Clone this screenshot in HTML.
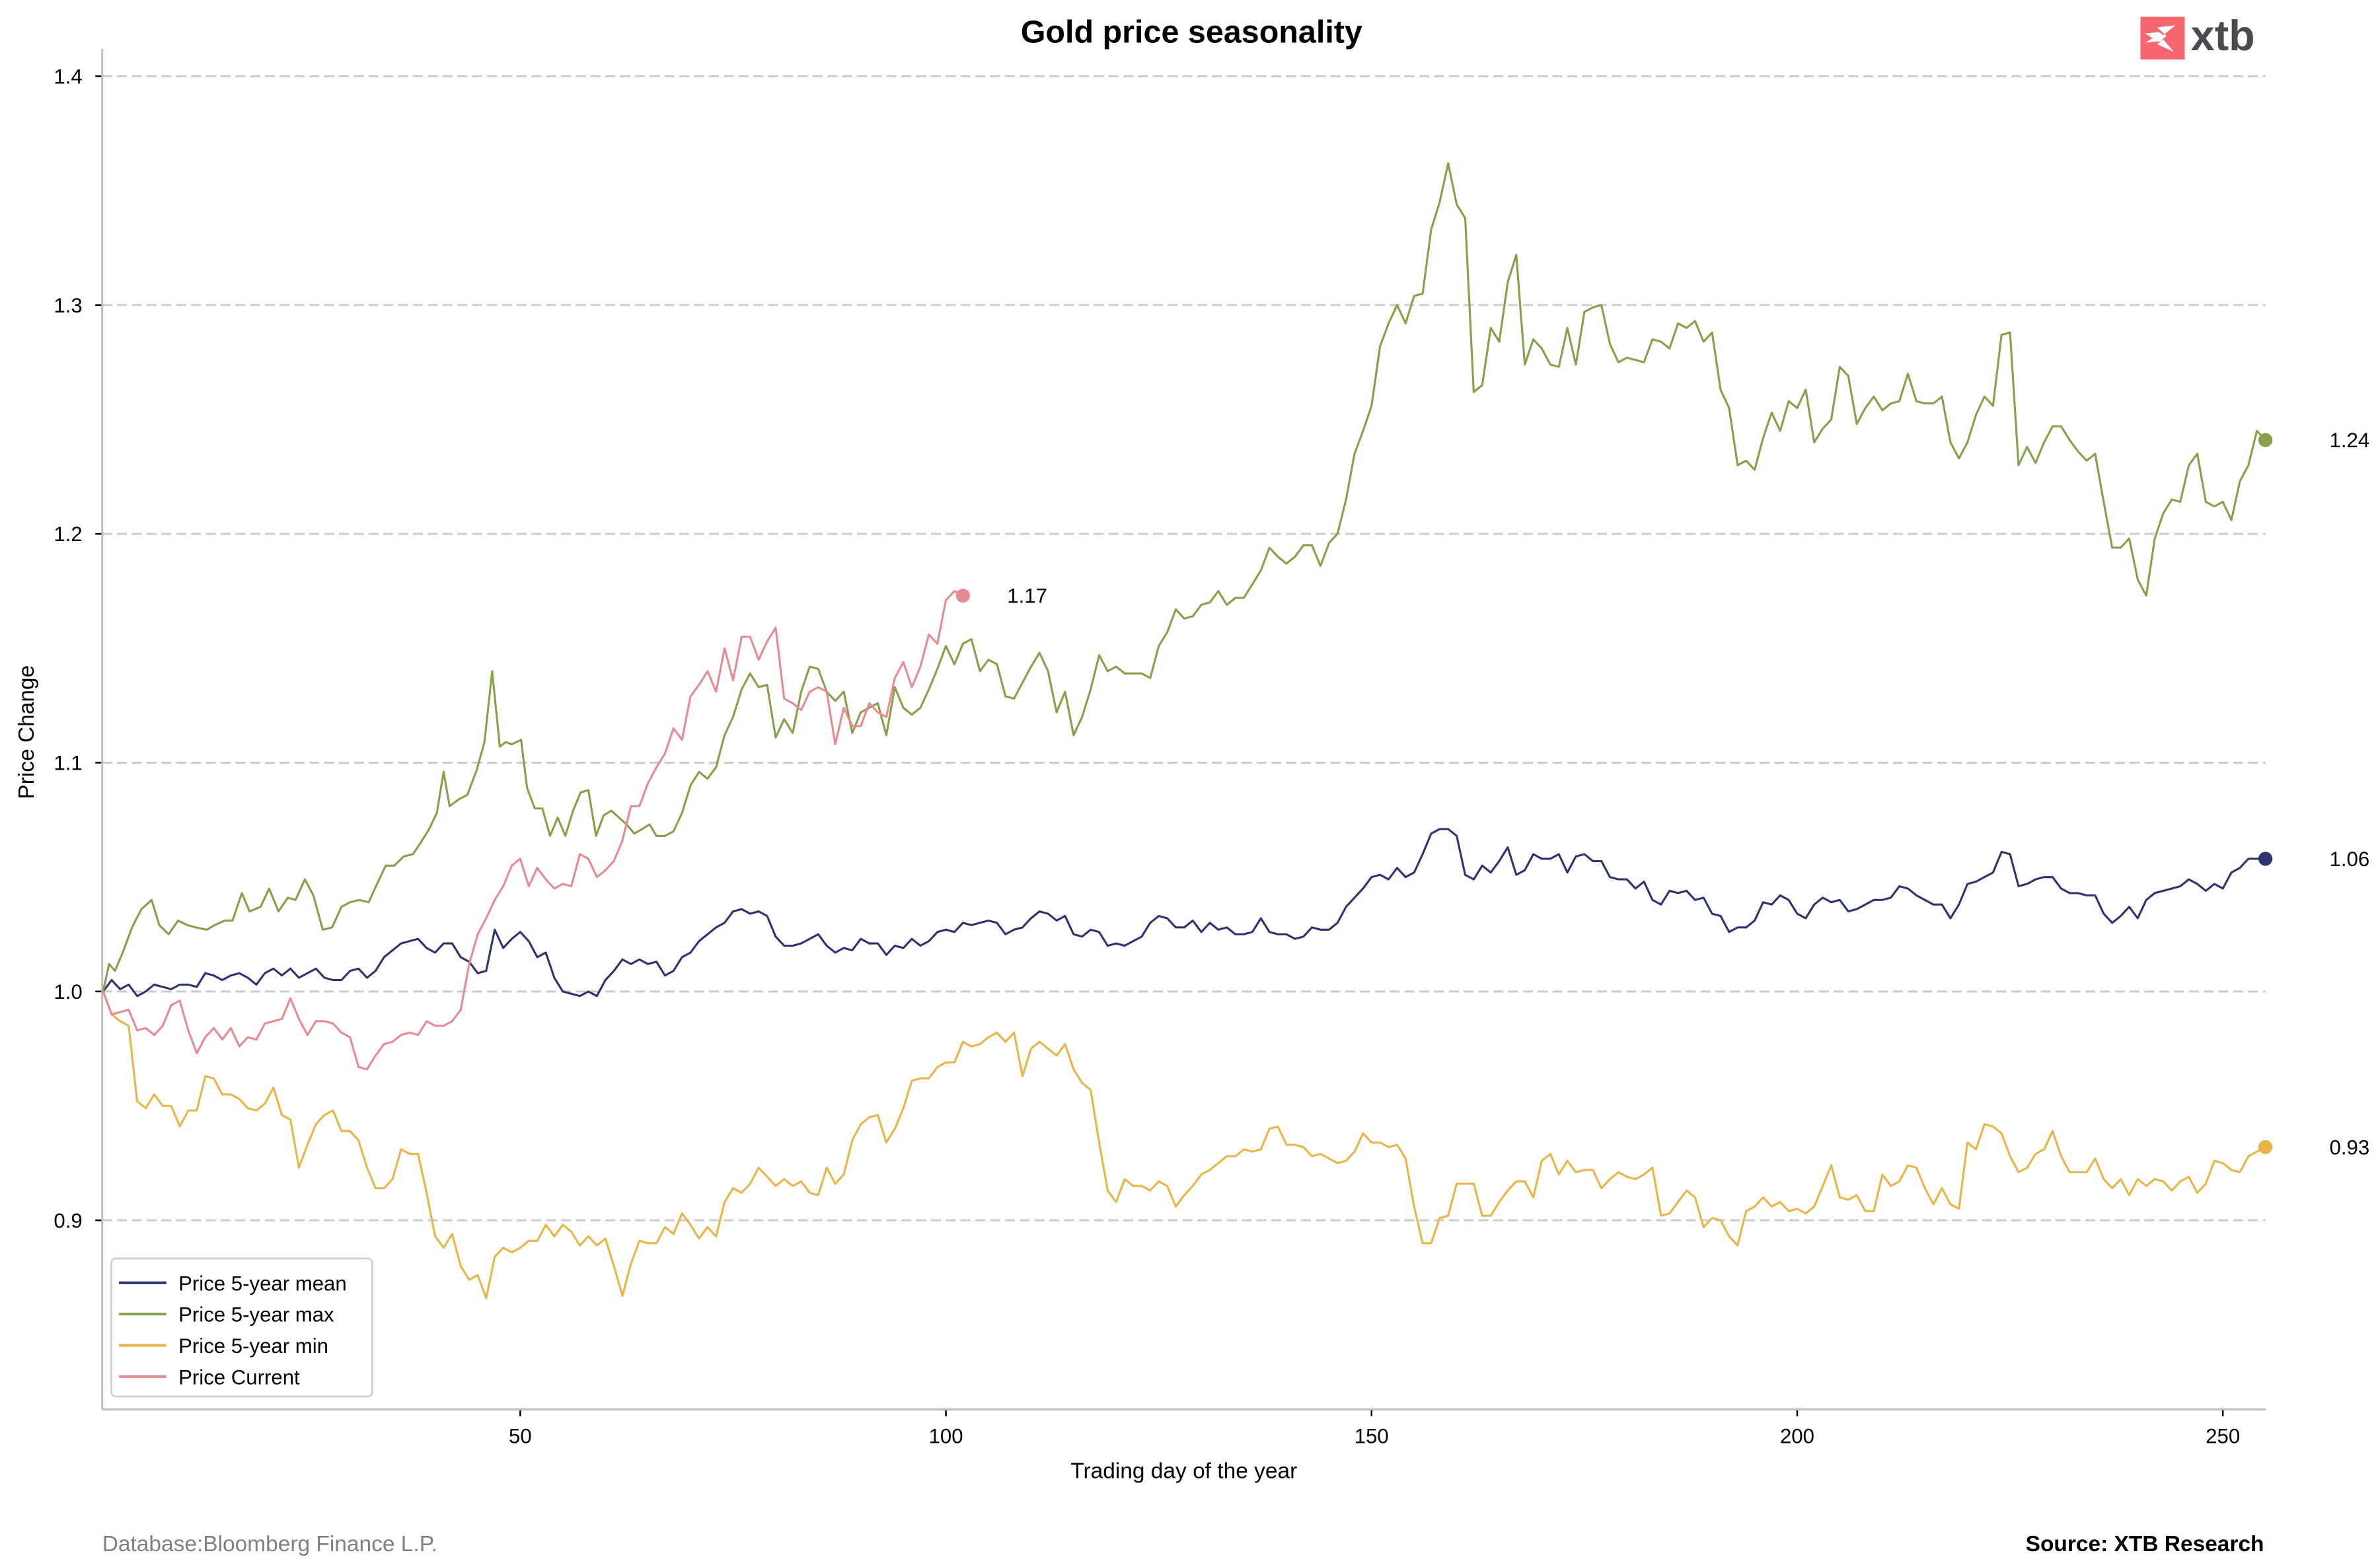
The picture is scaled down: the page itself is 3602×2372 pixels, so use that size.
<!DOCTYPE html>
<html><head><meta charset="utf-8"><style>
html,body{margin:0;padding:0;background:#fff;}
svg{display:block;font-family:"Liberation Sans",Arial,sans-serif;}
</style></head><body>
<svg id="chart" width="3602" height="2372" viewBox="0 0 1560 1027.3" xmlns="http://www.w3.org/2000/svg">
<rect x="0" y="0" width="1560" height="1027.3" fill="#fff"/>
<text x="781" y="28" text-anchor="middle" font-size="21" font-weight="bold" fill="#000">Gold price seasonality</text>
<g>
<rect x="1403" y="11" width="29" height="28" fill="#f5666f"/>
<path d="M1406 22 L1415 21 L1418 23 L1426 16.5 L1414 18 L1420 23.5 L1414 29 L1425 34 L1418 26 L1416 27 L1406 28 L1411 25 Z" fill="#fff"/>
<text x="1436" y="33" font-size="28" font-weight="bold" fill="#4a4a4f">xtb</text>
</g>
<g id="grid"></g>
<g id="axes"></g>
<g id="series"></g>
<g id="endmarks"></g>
<text x="776" y="969" text-anchor="middle" font-size="14.5" fill="#000">Trading day of the year</text>
<text transform="translate(22,480) rotate(-90)" text-anchor="middle" font-size="14.5" fill="#000">Price Change</text>
<text x="67" y="1017" font-size="14.5" fill="#808080">Database:Bloomberg Finance L.P.</text>
<text x="1484" y="1017" text-anchor="end" font-size="14.5" font-weight="bold" fill="#000">Source: XTB Research</text>
<g>
<rect x="73" y="825" width="171" height="90.5" rx="3" fill="#fff" stroke="#d0d0d0" stroke-width="1.2"/>
<g><line x1="78" y1="841" x2="109" y2="841" stroke="#2e3470" stroke-width="1.8"/><text x="117" y="846" font-size="13.5">Price 5-year mean</text></g>
<g><line x1="78" y1="861.5" x2="109" y2="861.5" stroke="#86a04b" stroke-width="1.8"/><text x="117" y="866.5" font-size="13.5">Price 5-year max</text></g>
<g><line x1="78" y1="882" x2="109" y2="882" stroke="#e8b548" stroke-width="1.8"/><text x="117" y="887" font-size="13.5">Price 5-year min</text></g>
<g><line x1="78" y1="902.5" x2="109" y2="902.5" stroke="#e88a93" stroke-width="1.8"/><text x="117" y="907.5" font-size="13.5">Price Current</text></g>
</g>
</svg>
<script>
const yTicks = [0.9, 1.0, 1.1, 1.2, 1.3, 1.4];
const yTickLabels = ["0.9", "1.0", "1.1", "1.2", "1.3", "1.4"];
const xTicks = [50, 100, 150, 200, 250];
const xTickLabels = ["50", "100", "150", "200", "250"];

const meanValues = [1.000,1.005,1.001,1.003,0.998,1.000,1.003,1.002,1.001,1.003,1.003,1.002,1.008,1.007,1.005,1.007,1.008,1.006,1.003,1.008,1.010,1.007,1.010,1.006,1.008,1.010,1.006,1.005,1.005,1.009,1.010,1.006,1.009,1.015,1.018,1.021,1.022,1.023,1.019,1.017,1.021,1.021,1.015,1.013,1.008,1.009,1.027,1.019,1.023,1.026,1.022,1.015,1.017,1.006,1.000,0.999,0.998,1.000,0.998,1.005,1.009,1.014,1.012,1.014,1.012,1.013,1.007,1.009,1.015,1.017,1.022,1.025,1.028,1.030,1.035,1.036,1.034,1.035,1.033,1.024,1.020,1.020,1.021,1.023,1.025,1.020,1.017,1.019,1.018,1.023,1.021,1.021,1.016,1.020,1.019,1.023,1.020,1.022,1.026,1.027,1.026,1.030,1.029,1.030,1.031,1.030,1.025,1.027,1.028,1.032,1.035,1.034,1.031,1.033,1.025,1.024,1.027,1.026,1.020,1.021,1.020,1.022,1.024,1.030,1.033,1.032,1.028,1.028,1.031,1.026,1.030,1.027,1.028,1.025,1.025,1.026,1.032,1.026,1.025,1.025,1.023,1.024,1.028,1.027,1.027,1.030,1.037,1.041,1.045,1.050,1.051,1.049,1.054,1.050,1.052,1.060,1.069,1.071,1.071,1.068,1.051,1.049,1.055,1.052,1.057,1.063,1.051,1.053,1.060,1.058,1.058,1.060,1.052,1.059,1.060,1.057,1.057,1.050,1.049,1.049,1.045,1.048,1.040,1.038,1.044,1.043,1.044,1.040,1.041,1.034,1.033,1.026,1.028,1.028,1.031,1.039,1.038,1.042,1.040,1.034,1.032,1.038,1.041,1.039,1.040,1.035,1.036,1.038,1.040,1.040,1.041,1.046,1.045,1.042,1.040,1.038,1.038,1.032,1.038,1.047,1.048,1.050,1.052,1.061,1.060,1.046,1.047,1.049,1.050,1.050,1.045,1.043,1.043,1.042,1.042,1.034,1.030,1.033,1.037,1.032,1.040,1.043,1.044,1.045,1.046,1.049,1.047,1.044,1.047,1.045,1.052,1.054,1.058,1.058,1.058];

const minValues = [1.000,0.990,0.987,0.985,0.952,0.949,0.955,0.950,0.950,0.941,0.948,0.948,0.963,0.962,0.955,0.955,0.953,0.949,0.948,0.951,0.958,0.946,0.944,0.923,0.933,0.942,0.946,0.948,0.939,0.939,0.935,0.923,0.914,0.914,0.918,0.931,0.929,0.929,0.912,0.893,0.888,0.894,0.880,0.874,0.876,0.866,0.884,0.888,0.886,0.888,0.891,0.891,0.898,0.893,0.898,0.895,0.889,0.893,0.889,0.892,0.880,0.867,0.881,0.891,0.890,0.890,0.897,0.894,0.903,0.898,0.892,0.897,0.893,0.908,0.914,0.912,0.916,0.923,0.919,0.915,0.918,0.915,0.917,0.912,0.911,0.923,0.916,0.920,0.935,0.942,0.945,0.946,0.934,0.940,0.949,0.961,0.962,0.962,0.967,0.969,0.969,0.978,0.976,0.977,0.980,0.982,0.978,0.982,0.963,0.975,0.978,0.975,0.972,0.977,0.966,0.960,0.957,0.934,0.913,0.908,0.918,0.915,0.915,0.913,0.917,0.915,0.906,0.911,0.915,0.920,0.922,0.925,0.928,0.928,0.931,0.930,0.931,0.940,0.941,0.933,0.933,0.932,0.928,0.929,0.927,0.925,0.926,0.930,0.938,0.934,0.934,0.932,0.933,0.927,0.906,0.890,0.890,0.901,0.902,0.916,0.916,0.916,0.902,0.902,0.908,0.913,0.917,0.917,0.910,0.926,0.929,0.920,0.926,0.921,0.922,0.922,0.914,0.918,0.921,0.919,0.918,0.920,0.923,0.902,0.903,0.908,0.913,0.910,0.897,0.901,0.900,0.893,0.889,0.904,0.906,0.910,0.906,0.908,0.904,0.905,0.903,0.906,0.915,0.924,0.910,0.909,0.911,0.904,0.904,0.920,0.915,0.917,0.924,0.923,0.914,0.907,0.914,0.907,0.905,0.934,0.931,0.942,0.941,0.938,0.928,0.921,0.923,0.929,0.931,0.939,0.928,0.921,0.921,0.921,0.927,0.918,0.914,0.918,0.911,0.918,0.915,0.918,0.917,0.913,0.917,0.919,0.912,0.916,0.926,0.925,0.922,0.921,0.928,0.930,0.932];

const maxDays = [1,1.7,2.4,3.3,4.4,5.5,6.7,7.6,8.7,9.8,10.9,11.9,13.2,14.1,15.3,16.2,17.3,18.2,19.5,20.5,21.6,22.7,23.6,24.7,25.7,26.8,27.9,29,30,31.1,32.2,33.3,34.2,35.2,36.3,37.4,38.3,39.3,40.2,41,41.7,42.8,43.8,44.9,45.8,46.7,47.6,48.3,49,50.1,50.8,51.7,52.6,53.5,54.4,55.3,56.2,57.1,58,58.9,59.8,60.7,61.6,62.5,63.4,64.3,65.2,66,67,68,69,70,71,72,73,74,75,76,77,78,79,80,81,82,83,84,85,86,87,88,89,90,91,92,93,94,95,96,97,98,99,100,101,102,103,104,105,106,107,108,109,110,111,112,113,114,115,116,117,118,119,120,121,122,123,124,125,126,127,128,129,130,131,132,133,134,135,136,137,138,139,140,141,142,143,144,145,146,147,148,149,150,151,152,153,154,155,156,157,158,159,160,161,162,163,164,165,166,167,168,169,170,171,172,173,174,175,176,177,178,179,180,181,182,183,184,185,186,187,188,189,190,191,192,193,194,195,196,197,198,199,200,201,202,203,204,205,206,207,208,209,210,211,212,213,214,215,216,217,218,219,220,221,222,223,224,225,226,227,228,229,230,231,232,233,234,235,236,237,238,239,240,241,242,243,244,245,246,247,248,249,250,251,252,253,254,255];
const maxValues = [1.000,1.012,1.009,1.017,1.028,1.036,1.040,1.029,1.025,1.031,1.029,1.028,1.027,1.029,1.031,1.031,1.043,1.035,1.037,1.045,1.035,1.041,1.040,1.049,1.042,1.027,1.028,1.037,1.039,1.040,1.039,1.048,1.055,1.055,1.059,1.060,1.065,1.071,1.078,1.096,1.081,1.084,1.086,1.097,1.109,1.140,1.107,1.109,1.108,1.110,1.089,1.080,1.080,1.068,1.076,1.068,1.079,1.087,1.088,1.068,1.077,1.079,1.076,1.073,1.069,1.071,1.073,1.068,
1.068,1.070,1.078,1.090,1.096,1.093,1.098,1.112,1.120,1.132,1.139,1.133,1.134,1.111,1.119,1.113,1.131,1.142,1.141,1.131,1.127,1.131,1.113,1.122,1.124,1.126,1.112,1.133,1.124,1.121,1.124,1.132,1.141,1.151,1.143,1.152,1.154,1.140,1.145,1.143,1.129,1.128,1.135,1.142,1.148,1.140,1.122,1.131,1.112,1.120,1.132,1.147,1.140,1.142,1.139,1.139,1.139,1.137,1.151,1.157,1.167,1.163,1.164,1.169,1.170,1.175,1.169,1.172,1.172,1.178,1.184,1.194,1.190,1.187,1.190,1.195,1.195,
1.186,1.196,1.200,1.215,1.235,1.245,1.256,1.282,1.292,1.300,1.292,1.304,1.305,1.333,1.345,1.362,1.344,1.338,1.262,1.265,1.290,1.284,1.310,1.322,1.274,1.285,1.281,1.274,1.273,1.290,1.274,1.297,1.299,1.300,1.283,1.275,1.277,1.276,1.275,1.285,1.284,1.281,1.292,1.290,1.293,1.284,1.288,1.263,1.255,1.230,1.232,1.228,1.242,1.253,1.245,1.258,1.255,1.263,1.240,1.246,1.250,1.273,1.269,1.248,1.255,1.260,1.254,1.257,1.258,1.270,1.258,1.257,1.257,1.260,1.240,1.233,1.240,1.252,1.260,1.256,1.287,1.288,1.230,1.238,1.231,1.240,1.247,1.247,1.241,1.236,1.232,1.235,1.214,1.194,1.194,1.198,1.180,1.173,1.198,1.209,1.215,1.214,1.230,1.235,1.214,1.212,1.214,1.206,1.223,1.230,1.245,1.241];

const currentValues = [1.000,0.990,0.991,0.992,0.983,0.984,0.981,0.985,0.994,0.996,0.983,0.973,0.980,0.984,0.979,0.984,0.976,0.980,0.979,0.986,0.987,0.988,0.997,0.988,0.981,0.987,0.987,0.986,0.982,0.980,0.967,0.966,0.972,0.977,0.978,0.981,0.982,0.981,0.987,0.985,0.985,0.987,0.992,1.012,1.025,1.032,1.040,1.046,1.055,1.058,1.046,1.054,1.049,1.045,1.047,1.046,1.060,1.058,1.050,1.053,1.057,1.066,1.081,1.081,1.091,1.098,1.104,1.115,1.110,1.129,1.134,1.140,1.131,1.150,1.136,1.155,1.155,1.145,1.153,1.159,1.128,1.126,1.123,1.131,1.133,1.131,1.108,1.124,1.116,1.116,1.126,1.122,1.120,1.137,1.144,1.133,1.142,1.156,1.152,1.171,1.175,1.173];

const endLabels = ["1.06", "1.24", "0.93", "1.17"];

const X0 = 67.58, XD = 5.58;
const Y1 = 650, YU = 1500;
function sx(d){ return X0 + (d - 1) * XD; }
function sy(v){ return Y1 - (v - 1) * YU; }
const NS = "http://www.w3.org/2000/svg";
function mk(tag, parent){ const e = document.createElementNS(NS, tag); parent.appendChild(e); return e; }

const grid = document.getElementById('grid');
const axes = document.getElementById('axes');
const ser = document.getElementById('series');
const ends = document.getElementById('endmarks');
const axL = 67, axR = 1485, axB = 924, axT = 32;

yTicks.forEach(function(v, i){
  const g = mk('line', grid);
  
  
  g.setAttribute('x1', axL); g.setAttribute('x2', axR);
  g.setAttribute('y1', sy(v)); g.setAttribute('y2', sy(v));
  g.setAttribute('stroke', '#cccccc'); g.setAttribute('stroke-width', '1.3'); g.setAttribute('stroke-dasharray', '6.5,3.2');
  const t = mk('line', axes);
  
  
  t.setAttribute('x1', axL - 4.5); t.setAttribute('x2', axL); t.setAttribute('y1', sy(v)); t.setAttribute('y2', sy(v));
  t.setAttribute('stroke', '#000'); t.setAttribute('stroke-width', '1.1');
  const l = mk('text', axes);
  
  
  l.setAttribute('x', axL - 13); l.setAttribute('y', sy(v) + 4.8);
  l.setAttribute('text-anchor', 'end'); l.setAttribute('font-size', '13.5');
  l.textContent = yTickLabels[i];
});
xTicks.forEach(function(d, i){
  const t = mk('line', axes);
  
  
  t.setAttribute('x1', sx(d)); t.setAttribute('x2', sx(d)); t.setAttribute('y1', axB); t.setAttribute('y2', axB + 4.5);
  t.setAttribute('stroke', '#000'); t.setAttribute('stroke-width', '1.1');
  const l = mk('text', axes);
  
  
  l.setAttribute('x', sx(d)); l.setAttribute('y', axB + 22);
  l.setAttribute('text-anchor', 'middle'); l.setAttribute('font-size', '13.5');
  l.textContent = xTickLabels[i];
});
const sl = mk('line', axes);


sl.setAttribute('x1', axL); sl.setAttribute('x2', axL); sl.setAttribute('y1', axT); sl.setAttribute('y2', axB);
sl.setAttribute('stroke', '#bdbdbd'); sl.setAttribute('stroke-width', '1.3');
const sb = mk('line', axes);


sb.setAttribute('x1', axL); sb.setAttribute('x2', axR); sb.setAttribute('y1', axB); sb.setAttribute('y2', axB);
sb.setAttribute('stroke', '#bdbdbd'); sb.setAttribute('stroke-width', '1.3');

function seqDays(n){ const a = []; for (let i = 1; i <= n; i++) a.push(i); return a; }
const seriesDefs = [
  {name:'mean', days: seqDays(meanValues.length), vals: meanValues, color:'#2e3470', lbl: endLabels[0], off: 42},
  {name:'max', days: maxDays, vals: maxValues, color:'#86a04b', lbl: endLabels[1], off: 42},
  {name:'min', days: seqDays(minValues.length), vals: minValues, color:'#e8b548', lbl: endLabels[2], off: 42},
  {name:'current', days: seqDays(currentValues.length), vals: currentValues, color:'#e88a93', lbl: endLabels[3], off: 29}
];
seriesDefs.forEach(function(s){
  let d = '';
  for (let i = 0; i < s.vals.length; i++) {
    d += (i ? 'L' : 'M') + sx(s.days[i]).toFixed(2) + ' ' + sy(s.vals[i]).toFixed(2);
  }
  const p = mk('path', ser);
  
  
  p.setAttribute('d', d);
  p.setAttribute('fill', 'none'); p.setAttribute('stroke', s.color);
  p.setAttribute('stroke-width', '1.35'); p.setAttribute('stroke-linejoin', 'round');
  const n = s.vals.length - 1;
  const cx = sx(s.days[n]), cy = sy(s.vals[n]);
  const c = mk('circle', ends);
  
  
  c.setAttribute('cx', cx); c.setAttribute('cy', cy); c.setAttribute('r', 4.6); c.setAttribute('fill', s.color);
  const t = mk('text', ends);
  
  
  t.setAttribute('x', cx + s.off); t.setAttribute('y', cy + 4.8);
  t.setAttribute('font-size', '13.5');
  t.textContent = s.lbl;
});
</script>
</body></html>
